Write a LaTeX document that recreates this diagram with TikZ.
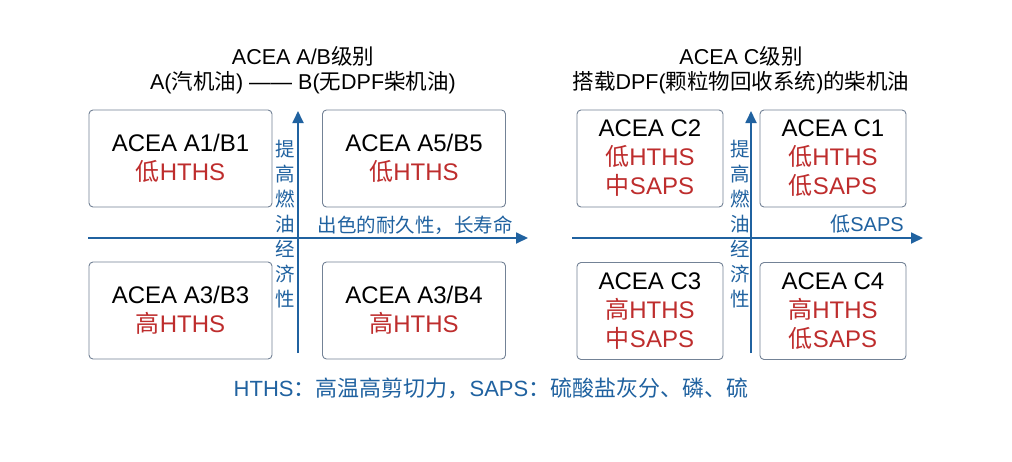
\documentclass[tikz,border=0pt]{standalone}
\usepackage{fontspec}
\setmainfont{Liberation Sans}
\newfontfamily\cjkf{Noto Sans CJK SC}
\newcommand\zhs[1]{{\cjkf #1}}
\usetikzlibrary{arrows.meta}
\definecolor{axisblue}{RGB}{32,98,160}
\definecolor{labred}{RGB}{190,45,45}
\definecolor{boxgray}{RGB}{115,130,150}
\begin{document}
\begin{tikzpicture}[x=1pt,y=-1pt,
  qbox/.style={draw=boxgray, line width=0.9pt, rounded corners=4pt, minimum width=183pt, minimum height=97pt, align=center, inner sep=0pt, font=\fontsize{24}{29}\selectfont},
  cbox/.style={qbox, minimum width=146pt},
  axisline/.style={draw=axisblue, line width=1.8pt, -{Triangle[width=11pt,length=12pt]}},
  axlab/.style={text=axisblue, align=center, inner sep=0pt, font=\fontsize{19.5}{25}\selectfont\cjkf},
  ttl/.style={align=center, inner sep=0pt, font=\fontsize{21.5}{25}\selectfont},
  note/.style={text=axisblue, inner sep=0pt, font=\fontsize{22}{26}\selectfont}
]
\useasboundingbox[fill=white] (0,0) rectangle (1012,461);

% titles
\node[ttl] (tl) at (303,70) {ACEA A/B\zhs{级别}\\A(\zhs{汽机油}) —— B(\zhs{无}DPF\zhs{柴机油})};
\node[ttl] (tr) at (741,70) {ACEA C\zhs{级别}\\\zhs{搭载}DPF(\zhs{颗粒物回收系统})\zhs{的柴机油}};

% left axes
\coordinate (lvb) at (298,353);
\coordinate (lvt) at (298,111);
\coordinate (lhl) at (88,238);
\coordinate (lhr) at (528,238);
\draw[axisline] (lvb) -- (lvt);
\draw[axisline] (lhl) -- (lhr);

% right axes
\coordinate (rvb) at (751,353);
\coordinate (rvt) at (751,111);
\coordinate (rhl) at (572,238);
\coordinate (rhr) at (923,238);
\draw[axisline] (rvb) -- (rvt);
\draw[axisline] (rhl) -- (rhr);

% axis labels
\node[axlab] (lv) at (285,224) {提\\高\\燃\\油\\经\\济\\性};
\node[axlab] (rv) at (740,224) {提\\高\\燃\\油\\经\\济\\性};
\node[axlab] (lh) at (415,225) {出色的耐久性，长寿命};
\node[text=axisblue, inner sep=0pt, font=\fontsize{20}{24}\selectfont] (rh) at (867,224) {\zhs{低}SAPS};

% left boxes
\node[qbox] (a1) at (180.5,158.5) {ACEA A1/B1\\{\color{labred}\zhs{低}HTHS}};
\node[qbox] (a5) at (414,158.5) {ACEA A5/B5\\{\color{labred}\zhs{低}HTHS}};
\node[qbox] (a3) at (180.5,310.5) {ACEA A3/B3\\{\color{labred}\zhs{高}HTHS}};
\node[qbox] (a4) at (414,310.5) {ACEA A3/B4\\{\color{labred}\zhs{高}HTHS}};

% right boxes
\node[cbox] (c2) at (650,158.5) {ACEA C2\\{\color{labred}\zhs{低}HTHS}\\{\color{labred}\zhs{中}SAPS}};
\node[cbox] (c1) at (833,158.5) {ACEA C1\\{\color{labred}\zhs{低}HTHS}\\{\color{labred}\zhs{低}SAPS}};
\node[cbox] (c3) at (650,311) {ACEA C3\\{\color{labred}\zhs{高}HTHS}\\{\color{labred}\zhs{中}SAPS}};
\node[cbox] (c4) at (833,311) {ACEA C4\\{\color{labred}\zhs{高}HTHS}\\{\color{labred}\zhs{低}SAPS}};

% note
\node[note] (nt) at (491,388) {HTHS\zhs{：高温高剪切力，}SAPS\zhs{：硫酸盐灰分、磷、硫}};
\end{tikzpicture}
\end{document}
